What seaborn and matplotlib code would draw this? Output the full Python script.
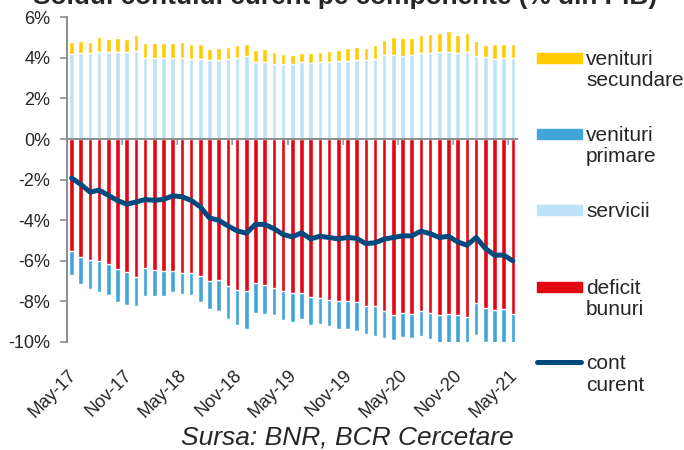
import numpy as np
import pandas as pd
import matplotlib
matplotlib.use("Agg")
import matplotlib.pyplot as plt
import matplotlib.patches as mpatches
import matplotlib.lines as mlines
from matplotlib.transforms import ScaledTranslation
import seaborn as sns

# ---------------- data (% of GDP) ----------------
months = [d.strftime("%b-%y") for d in pd.date_range("2017-05-01", "2021-05-01", freq="MS")]

venituri_secundare = [0.60, 0.60, 0.51, 0.74, 0.64, 0.66, 0.62, 0.77, 0.76, 0.74,
                      0.76, 0.74, 0.82, 0.71, 0.75, 0.57, 0.59, 0.61, 0.62, 0.61,
                      0.62, 0.64, 0.61, 0.46, 0.44, 0.46, 0.50, 0.51, 0.54, 0.54,
                      0.64, 0.65, 0.56, 0.69, 0.74, 0.86, 0.89, 0.85, 0.90, 0.90,
                      0.92, 1.03, 0.89, 0.90, 0.78, 0.60, 0.72, 0.72, 0.72]

servicii = [4.20, 4.25, 4.26, 4.31, 4.31, 4.31, 4.31, 4.36, 3.98, 3.98,
            3.98, 3.98, 3.98, 3.95, 3.95, 3.89, 3.89, 3.95, 4.00, 4.08,
            3.79, 3.79, 3.69, 3.72, 3.72, 3.79, 3.75, 3.80, 3.80, 3.87,
            3.85, 3.89, 3.92, 3.93, 4.16, 4.16, 4.11, 4.15, 4.23, 4.26,
            4.31, 4.30, 4.26, 4.31, 4.07, 4.02, 3.95, 3.97, 3.97]

deficit_bunuri = [-5.52, -5.79, -5.97, -6.03, -6.18, -6.39, -6.56, -6.79, -6.34, -6.46,
                  -6.49, -6.49, -6.59, -6.62, -6.77, -6.97, -6.95, -7.23, -7.43, -7.49,
                  -7.10, -7.20, -7.34, -7.51, -7.61, -7.61, -7.80, -7.84, -7.93, -8.00,
                  -8.00, -8.03, -8.23, -8.25, -8.49, -8.66, -8.59, -8.62, -8.49, -8.56,
                  -8.69, -8.62, -8.67, -8.79, -8.10, -8.30, -8.43, -8.39, -8.61]

venituri_primare = [-1.18, -1.34, -1.44, -1.51, -1.49, -1.64, -1.60, -1.46, -1.38, -1.29,
                    -1.23, -1.03, -1.06, -1.07, -1.26, -1.42, -1.54, -1.62, -1.72, -1.85,
                    -1.49, -1.44, -1.32, -1.41, -1.41, -1.28, -1.36, -1.27, -1.28, -1.36,
                    -1.36, -1.41, -1.39, -1.47, -1.31, -1.23, -1.18, -1.17, -1.20, -1.29,
                    -1.39, -1.50, -1.55, -1.65, -1.57, -1.70, -1.96, -2.02, -2.08]

cont_curent = [-1.92, -2.23, -2.61, -2.52, -2.77, -3.03, -3.21, -3.10, -2.98, -3.02,
               -2.97, -2.80, -2.84, -3.02, -3.34, -3.89, -4.00, -4.28, -4.52, -4.64,
               -4.20, -4.21, -4.41, -4.70, -4.82, -4.62, -4.92, -4.79, -4.85, -4.92,
               -4.85, -4.89, -5.15, -5.11, -4.93, -4.85, -4.77, -4.77, -4.54, -4.66,
               -4.85, -4.79, -5.07, -5.23, -4.85, -5.39, -5.72, -5.72, -6.00]

tick_labels = ["May-17", "Nov-17", "May-18", "Nov-18", "May-19",
               "Nov-19", "May-20", "Nov-20", "May-21"]
y_ticks = [6, 4, 2, 0, -2, -4, -6, -8, -10]

legend_labels = ["venituri\nsecundare", "venituri\nprimare", "servicii",
                 "deficit\nbunuri", "cont\ncurent"]

# ---------------- style ----------------
C_SEC = "#FFCC00"
C_PRIM = "#41A5D9"
C_SERV = "#BEE3F8"
C_GOODS = "#E30613"
C_CA = "#004A7F"
C_AXIS = "#8C8C8C"

sns.set_style("white")
plt.rcParams["font.family"] = ["Liberation Sans", "DejaVu Sans"]

df = pd.DataFrame({
    "month": months,
    "pos_total": np.array(servicii) + np.array(venituri_secundare),
    "servicii": servicii,
    "neg_total": np.array(deficit_bunuri) + np.array(venituri_primare),
    "bunuri": deficit_bunuri,
    "ca": cont_curent,
})
n = len(df)

fig = plt.figure(figsize=(6.84, 4.50), dpi=100)
W, H = 684, 450
ax = fig.add_axes([67 / W, 1 - 342 / H, (517.5 - 67) / W, (342 - 17.3) / H])

bw = 0.5
sns.barplot(data=df, x="month", y="pos_total", color=C_SEC, width=bw, errorbar=None,
            saturation=1, ax=ax, zorder=2)
sns.barplot(data=df, x="month", y="servicii", color=C_SERV, width=bw, errorbar=None,
            saturation=1, ax=ax, zorder=2)
sns.barplot(data=df, x="month", y="neg_total", color=C_PRIM, width=bw, errorbar=None,
            saturation=1, ax=ax, zorder=2)
sns.barplot(data=df, x="month", y="bunuri", color=C_GOODS, width=bw, errorbar=None,
            saturation=1, ax=ax, zorder=2)
sns.lineplot(x=np.arange(n), y=df["ca"].values, color=C_CA, linewidth=3.6, ax=ax,
             sort=False, zorder=4, solid_capstyle="round", solid_joinstyle="round")

ax.set_ylim(-10, 6)
ax.set_xlim(-0.5, n - 0.5)
ax.set_xlabel("")
ax.set_ylabel("")

# y axis
ax.set_yticks(y_ticks)
ax.set_yticklabels([f"{v}%" for v in y_ticks], fontsize=13)
ax.tick_params(axis="y", direction="out", length=5, width=1.2, color=C_AXIS, pad=7,
               left=True)
for s in ["top", "right", "bottom"]:
    ax.spines[s].set_visible(False)
ax.spines["left"].set_color(C_AXIS)
ax.spines["left"].set_linewidth(1.4)

# x tick labels at bottom
label_pos = list(range(0, n, 6))
ax.set_xticks(label_pos)
ax.set_xticklabels(tick_labels, fontsize=13, rotation=45, ha="right", va="top",
                   rotation_mode="anchor")
ax.tick_params(axis="x", length=0, pad=18)
for lab in ax.get_xticklabels():
    lab.set_transform(lab.get_transform() + ScaledTranslation(-4 / 100, 0, fig.dpi_scale_trans))

# zero line with category-boundary ticks
ax.axhline(0, color=C_AXIS, linewidth=1.4, zorder=3)
sec = ax.secondary_xaxis(10 / 16)
sec.spines["bottom"].set_visible(False)
sec.spines["top"].set_visible(False)
sec.set_xticks([p - 0.5 for p in range(6, n, 6)])
sec.tick_params(axis="x", direction="out", length=4.5, width=1.2, color=C_AXIS,
                labelbottom=False, labeltop=False, bottom=True, top=False)

# title (partially cut at the top, as in the reference)
fig.text(0.504, 1 - 4 / H, "Soldul contului curent pe componente (% din PIB)",
         ha="center", va="baseline", fontsize=18.9, fontweight="bold")

# source
fig.text(0.508, 1 - 445 / H, "Sursa: BNR, BCR Cercetare", ha="center", va="baseline",
         fontsize=19, fontstyle="italic")

# manual legend
leg_colors = [C_SEC, C_PRIM, C_SERV, C_GOODS]
leg_y = [57.7, 133.7, 210, 286.7, 362]
for i, lab in enumerate(legend_labels):
    yc = leg_y[i]
    if i < 4:
        fig.add_artist(mpatches.Rectangle((537 / W, 1 - (yc + 5) / H), 45 / W, 10 / H,
                                          transform=fig.transFigure, color=leg_colors[i]))
    else:
        fig.add_artist(mlines.Line2D([537 / W, 581 / W], [1 - yc / H, 1 - yc / H],
                                     transform=fig.transFigure, color=C_CA, linewidth=3.6,
                                     solid_capstyle="round"))
    fig.text(586 / W, 1 - (yc - 7.7) / H, lab, ha="left", va="top", fontsize=15,
             linespacing=1.16)

fig.savefig("out.png", dpi=100)
